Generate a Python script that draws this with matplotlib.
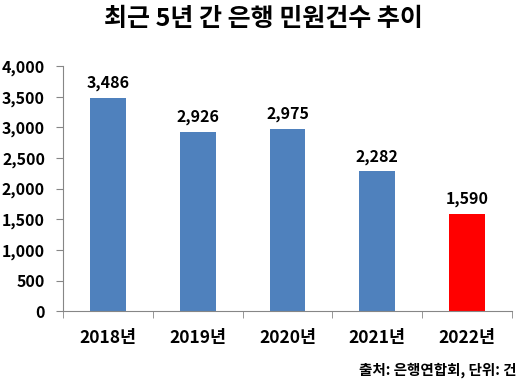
import matplotlib
matplotlib.use("Agg")
import matplotlib.pyplot as plt
from matplotlib.ticker import FuncFormatter

plt.rcParams["font.family"] = ["Noto Sans CJK KR", "DejaVu Sans"]

years = ["2018년", "2019년", "2020년", "2021년", "2022년"]
complaints = [3486, 2926, 2975, 2282, 1590]
bar_colors = ["#4F81BD", "#4F81BD", "#4F81BD", "#4F81BD", "#FF0000"]

fig = plt.figure(figsize=(5.3, 3.87), dpi=100)
ax = fig.add_axes([0.119, 0.196, 0.847, 0.633])

x = list(range(len(years)))
bars = ax.bar(x, complaints, width=0.4, color=bar_colors)

for xi, v in zip(x, complaints):
    ax.text(xi, v + 110, f"{v:,}", ha="center", va="bottom",
            fontsize=11.5, fontweight="bold")

ax.set_xlim(-0.5, len(years) - 0.5)
ax.set_ylim(0, 4000)
ax.set_yticks(range(0, 4001, 500))
ax.yaxis.set_major_formatter(FuncFormatter(lambda v, _: f"{int(v):,}"))
ax.set_xticks(x)
ax.set_xticklabels(years)
ax.set_xticks([i - 0.5 for i in range(len(years) + 1)], minor=True)
ax.tick_params(axis="x", which="major", length=0, pad=13)
ax.tick_params(axis="x", which="minor", length=5, color="#868686")
ax.tick_params(axis="y", length=5, color="#868686", pad=8)

for lbl in ax.get_xticklabels():
    lbl.set_fontweight("bold")
    lbl.set_fontsize(12.5)
for lbl in ax.get_yticklabels():
    lbl.set_fontweight("bold")
    lbl.set_fontsize(11.5)

for side in ["top", "right"]:
    ax.spines[side].set_visible(False)
for side in ["left", "bottom"]:
    ax.spines[side].set_color("#868686")

fig.text(0.497, 0.95, "최근 5년 간 은행 민원건수 추이", ha="center", va="center",
         fontsize=18, fontweight="bold")
fig.text(0.975, 0.044, "출처: 은행연합회, 단위: 건", ha="right", va="center",
         fontsize=10.5, fontweight="bold")

fig.savefig("out.png", dpi=100)
